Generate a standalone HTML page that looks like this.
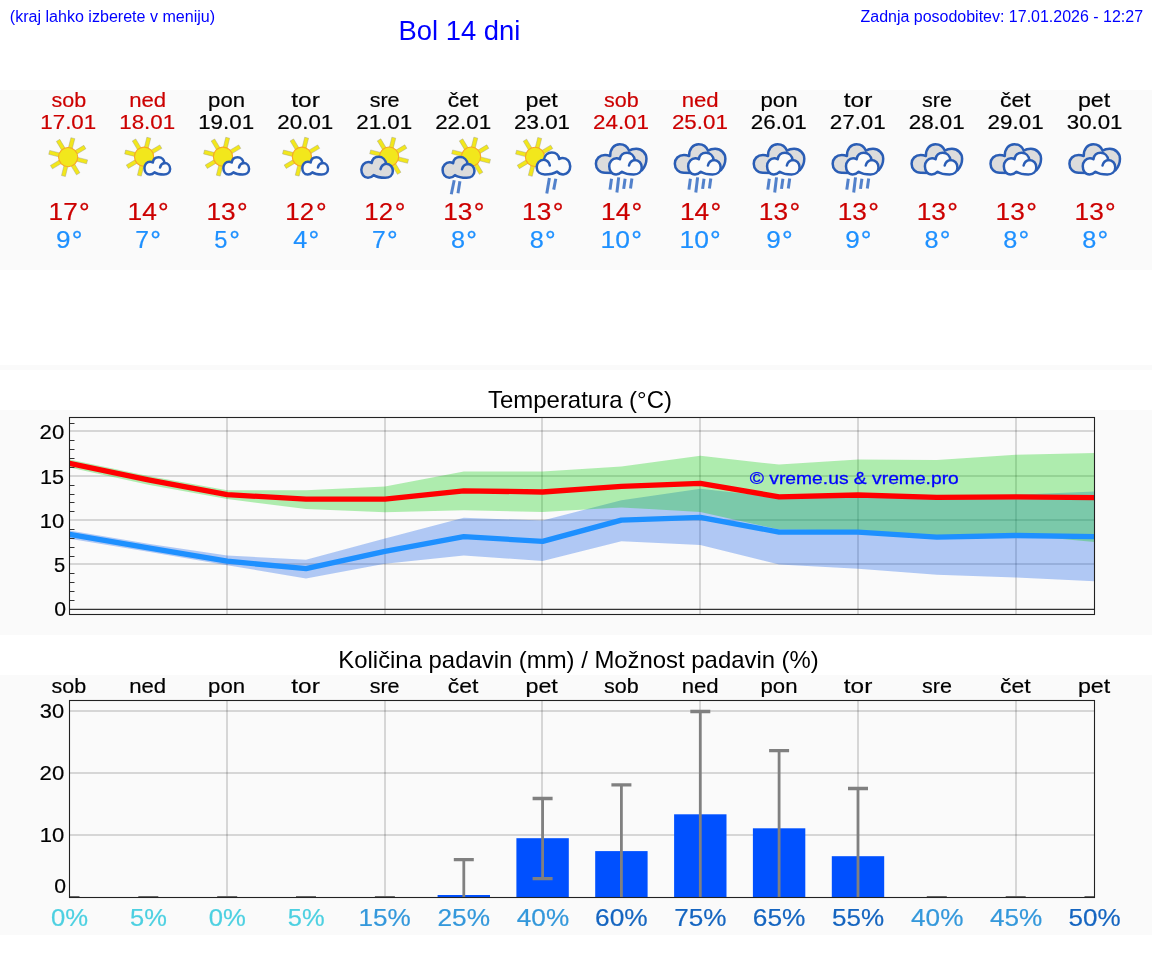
<!DOCTYPE html>
<html lang="sl">
<head>
<meta charset="utf-8">
<title>Bol 14 dni</title>
<style>
html,body{margin:0;padding:0;background:#fff;}
body{position:relative;width:1152px;height:975px;overflow:hidden;font-family:"Liberation Sans",sans-serif;}
.band{position:absolute;left:0;width:1152px;background:#fafafa;}
svg{position:absolute;left:0;top:0;}
#labels{position:absolute;left:0;top:0;width:1152px;height:975px;will-change:transform;}
.d{-webkit-text-stroke:0.2px currentColor;}
.t{position:absolute;left:0;top:0;white-space:pre;transform-origin:0 0;font-family:"Liberation Sans",sans-serif;}
</style>
</head>
<body>
<div class="band" style="top:90px;height:180px"></div>
<div class="band" style="top:365px;height:5px"></div>
<div class="band" style="top:410px;height:225px"></div>
<div class="band" style="top:675px;height:260px"></div>
<svg width="1152" height="975" viewBox="0 0 1152 975">
<g transform="translate(68.14,157.10)"><rect x="9.3" y="-2" width="10.2" height="4" fill="#f2e71c" stroke="#9a9a80" stroke-opacity=".55" stroke-width=".7" transform="rotate(-76)"/><rect x="9.3" y="-2" width="10.2" height="4" fill="#f2e71c" stroke="#9a9a80" stroke-opacity=".55" stroke-width=".7" transform="rotate(-31)"/><rect x="9.3" y="-2" width="10.2" height="4" fill="#f2e71c" stroke="#9a9a80" stroke-opacity=".55" stroke-width=".7" transform="rotate(14)"/><rect x="9.3" y="-2" width="10.2" height="4" fill="#f2e71c" stroke="#9a9a80" stroke-opacity=".55" stroke-width=".7" transform="rotate(59)"/><rect x="9.3" y="-2" width="10.2" height="4" fill="#f2e71c" stroke="#9a9a80" stroke-opacity=".55" stroke-width=".7" transform="rotate(104)"/><rect x="9.3" y="-2" width="10.2" height="4" fill="#f2e71c" stroke="#9a9a80" stroke-opacity=".55" stroke-width=".7" transform="rotate(149)"/><rect x="9.3" y="-2" width="10.2" height="4" fill="#f2e71c" stroke="#9a9a80" stroke-opacity=".55" stroke-width=".7" transform="rotate(194)"/><rect x="9.3" y="-2" width="10.2" height="4" fill="#f2e71c" stroke="#9a9a80" stroke-opacity=".55" stroke-width=".7" transform="rotate(239)"/><circle r="9.6" fill="#f2e71c" stroke="#f7a823" stroke-width="1.1"/></g>
<g transform="translate(144.07,156.70)"><rect x="9.3" y="-2" width="10.2" height="4" fill="#f2e71c" stroke="#9a9a80" stroke-opacity=".55" stroke-width=".7" transform="rotate(-76)"/><rect x="9.3" y="-2" width="10.2" height="4" fill="#f2e71c" stroke="#9a9a80" stroke-opacity=".55" stroke-width=".7" transform="rotate(-31)"/><rect x="9.3" y="-2" width="10.2" height="4" fill="#f2e71c" stroke="#9a9a80" stroke-opacity=".55" stroke-width=".7" transform="rotate(104)"/><rect x="9.3" y="-2" width="10.2" height="4" fill="#f2e71c" stroke="#9a9a80" stroke-opacity=".55" stroke-width=".7" transform="rotate(149)"/><rect x="9.3" y="-2" width="10.2" height="4" fill="#f2e71c" stroke="#9a9a80" stroke-opacity=".55" stroke-width=".7" transform="rotate(194)"/><rect x="9.3" y="-2" width="10.2" height="4" fill="#f2e71c" stroke="#9a9a80" stroke-opacity=".55" stroke-width=".7" transform="rotate(239)"/><circle r="9.6" fill="#f2e71c" stroke="#f7a823" stroke-width="1.1"/></g><g transform="translate(143.40,156.20) scale(0.05851,0.05939) translate(-140,-355)" stroke="#2a5db5" stroke-width="42.4" stroke-linejoin="round" stroke-linecap="round"><path d="M250 665C190 665 158 610 158 555C158 495 200 447 255 447C275 447 290 452 302 460C310 405 350 373 400 373C455 373 495 415 503 470C560 470 597 515 597 570C597 630 550 665 490 665C430 665 370 655 330 628C310 650 285 665 250 665Z" fill="#fbfbfb"/><path d="M503 470C470 475 435 500 425 545" fill="none"/></g>
<g transform="translate(222.99,156.70)"><rect x="9.3" y="-2" width="10.2" height="4" fill="#f2e71c" stroke="#9a9a80" stroke-opacity=".55" stroke-width=".7" transform="rotate(-76)"/><rect x="9.3" y="-2" width="10.2" height="4" fill="#f2e71c" stroke="#9a9a80" stroke-opacity=".55" stroke-width=".7" transform="rotate(-31)"/><rect x="9.3" y="-2" width="10.2" height="4" fill="#f2e71c" stroke="#9a9a80" stroke-opacity=".55" stroke-width=".7" transform="rotate(104)"/><rect x="9.3" y="-2" width="10.2" height="4" fill="#f2e71c" stroke="#9a9a80" stroke-opacity=".55" stroke-width=".7" transform="rotate(149)"/><rect x="9.3" y="-2" width="10.2" height="4" fill="#f2e71c" stroke="#9a9a80" stroke-opacity=".55" stroke-width=".7" transform="rotate(194)"/><rect x="9.3" y="-2" width="10.2" height="4" fill="#f2e71c" stroke="#9a9a80" stroke-opacity=".55" stroke-width=".7" transform="rotate(239)"/><circle r="9.6" fill="#f2e71c" stroke="#f7a823" stroke-width="1.1"/></g><g transform="translate(222.32,156.20) scale(0.05851,0.05939) translate(-140,-355)" stroke="#2a5db5" stroke-width="42.4" stroke-linejoin="round" stroke-linecap="round"><path d="M250 665C190 665 158 610 158 555C158 495 200 447 255 447C275 447 290 452 302 460C310 405 350 373 400 373C455 373 495 415 503 470C560 470 597 515 597 570C597 630 550 665 490 665C430 665 370 655 330 628C310 650 285 665 250 665Z" fill="#fbfbfb"/><path d="M503 470C470 475 435 500 425 545" fill="none"/></g>
<g transform="translate(301.91,156.70)"><rect x="9.3" y="-2" width="10.2" height="4" fill="#f2e71c" stroke="#9a9a80" stroke-opacity=".55" stroke-width=".7" transform="rotate(-76)"/><rect x="9.3" y="-2" width="10.2" height="4" fill="#f2e71c" stroke="#9a9a80" stroke-opacity=".55" stroke-width=".7" transform="rotate(-31)"/><rect x="9.3" y="-2" width="10.2" height="4" fill="#f2e71c" stroke="#9a9a80" stroke-opacity=".55" stroke-width=".7" transform="rotate(104)"/><rect x="9.3" y="-2" width="10.2" height="4" fill="#f2e71c" stroke="#9a9a80" stroke-opacity=".55" stroke-width=".7" transform="rotate(149)"/><rect x="9.3" y="-2" width="10.2" height="4" fill="#f2e71c" stroke="#9a9a80" stroke-opacity=".55" stroke-width=".7" transform="rotate(194)"/><rect x="9.3" y="-2" width="10.2" height="4" fill="#f2e71c" stroke="#9a9a80" stroke-opacity=".55" stroke-width=".7" transform="rotate(239)"/><circle r="9.6" fill="#f2e71c" stroke="#f7a823" stroke-width="1.1"/></g><g transform="translate(301.24,156.20) scale(0.05851,0.05939) translate(-140,-355)" stroke="#2a5db5" stroke-width="42.4" stroke-linejoin="round" stroke-linecap="round"><path d="M250 665C190 665 158 610 158 555C158 495 200 447 255 447C275 447 290 452 302 460C310 405 350 373 400 373C455 373 495 415 503 470C560 470 597 515 597 570C597 630 550 665 490 665C430 665 370 655 330 628C310 650 285 665 250 665Z" fill="#fbfbfb"/><path d="M503 470C470 475 435 500 425 545" fill="none"/></g>
<g transform="translate(389.10,156.60)"><rect x="9.3" y="-2" width="10.2" height="4" fill="#f2e71c" stroke="#9a9a80" stroke-opacity=".55" stroke-width=".7" transform="rotate(-76)"/><rect x="9.3" y="-2" width="10.2" height="4" fill="#f2e71c" stroke="#9a9a80" stroke-opacity=".55" stroke-width=".7" transform="rotate(-31)"/><rect x="9.3" y="-2" width="10.2" height="4" fill="#f2e71c" stroke="#9a9a80" stroke-opacity=".55" stroke-width=".7" transform="rotate(14)"/><rect x="9.3" y="-2" width="10.2" height="4" fill="#f2e71c" stroke="#9a9a80" stroke-opacity=".55" stroke-width=".7" transform="rotate(59)"/><rect x="9.3" y="-2" width="10.2" height="4" fill="#f2e71c" stroke="#9a9a80" stroke-opacity=".55" stroke-width=".7" transform="rotate(194)"/><rect x="9.3" y="-2" width="10.2" height="4" fill="#f2e71c" stroke="#9a9a80" stroke-opacity=".55" stroke-width=".7" transform="rotate(239)"/><circle r="9.6" fill="#f2e71c" stroke="#f7a823" stroke-width="1.1"/></g><g transform="translate(360.05,155.50) scale(0.07181,0.07182) translate(-140,-355)" stroke="#2a5db5" stroke-width="34.8" stroke-linejoin="round" stroke-linecap="round"><path d="M250 665C190 665 158 610 158 555C158 495 200 447 255 447C275 447 290 452 302 460C310 405 350 373 400 373C455 373 495 415 503 470C560 470 597 515 597 570C597 630 550 665 490 665C430 665 370 655 330 628C310 650 285 665 250 665Z" fill="#dcdcdc"/><path d="M503 470C470 475 435 500 425 545" fill="none"/></g>
<g transform="translate(471.07,156.60)"><rect x="9.3" y="-2" width="10.2" height="4" fill="#f2e71c" stroke="#9a9a80" stroke-opacity=".55" stroke-width=".7" transform="rotate(-76)"/><rect x="9.3" y="-2" width="10.2" height="4" fill="#f2e71c" stroke="#9a9a80" stroke-opacity=".55" stroke-width=".7" transform="rotate(-31)"/><rect x="9.3" y="-2" width="10.2" height="4" fill="#f2e71c" stroke="#9a9a80" stroke-opacity=".55" stroke-width=".7" transform="rotate(14)"/><rect x="9.3" y="-2" width="10.2" height="4" fill="#f2e71c" stroke="#9a9a80" stroke-opacity=".55" stroke-width=".7" transform="rotate(59)"/><rect x="9.3" y="-2" width="10.2" height="4" fill="#f2e71c" stroke="#9a9a80" stroke-opacity=".55" stroke-width=".7" transform="rotate(194)"/><rect x="9.3" y="-2" width="10.2" height="4" fill="#f2e71c" stroke="#9a9a80" stroke-opacity=".55" stroke-width=".7" transform="rotate(239)"/><circle r="9.6" fill="#f2e71c" stroke="#f7a823" stroke-width="1.1"/></g><g transform="translate(441.30,155.80) scale(0.07255,0.07091) translate(-140,-355)" stroke="#2a5db5" stroke-width="34.9" stroke-linejoin="round" stroke-linecap="round"><path d="M250 665C190 665 158 610 158 555C158 495 200 447 255 447C275 447 290 452 302 460C310 405 350 373 400 373C455 373 495 415 503 470C560 470 597 515 597 570C597 630 550 665 490 665C430 665 370 655 330 628C310 650 285 665 250 665Z" fill="#dcdcdc"/><path d="M503 470C470 475 435 500 425 545" fill="none"/></g><line x1="454.2" y1="180.3" x2="451.3" y2="194.2" stroke="#3a6fc4" stroke-width="3" stroke-opacity=".88"/><line x1="459.9" y1="181.3" x2="458.0" y2="193.2" stroke="#3a6fc4" stroke-width="3" stroke-opacity=".88"/>
<g transform="translate(535.00,156.90)"><rect x="9.3" y="-2" width="10.2" height="4" fill="#f2e71c" stroke="#9a9a80" stroke-opacity=".55" stroke-width=".7" transform="rotate(-76)"/><rect x="9.3" y="-2" width="10.2" height="4" fill="#f2e71c" stroke="#9a9a80" stroke-opacity=".55" stroke-width=".7" transform="rotate(-31)"/><rect x="9.3" y="-2" width="10.2" height="4" fill="#f2e71c" stroke="#9a9a80" stroke-opacity=".55" stroke-width=".7" transform="rotate(104)"/><rect x="9.3" y="-2" width="10.2" height="4" fill="#f2e71c" stroke="#9a9a80" stroke-opacity=".55" stroke-width=".7" transform="rotate(149)"/><rect x="9.3" y="-2" width="10.2" height="4" fill="#f2e71c" stroke="#9a9a80" stroke-opacity=".55" stroke-width=".7" transform="rotate(194)"/><rect x="9.3" y="-2" width="10.2" height="4" fill="#f2e71c" stroke="#9a9a80" stroke-opacity=".55" stroke-width=".7" transform="rotate(239)"/><circle r="9.6" fill="#f2e71c" stroke="#f7a823" stroke-width="1.1"/></g><g transform="translate(571.60,151.20) scale(-0.07638,0.07485) translate(-140,-355)" stroke="#2a5db5" stroke-width="33.1" stroke-linejoin="round" stroke-linecap="round"><path d="M250 665C190 665 158 610 158 555C158 495 200 447 255 447C275 447 290 452 302 460C310 405 350 373 400 373C455 373 495 415 503 470C560 470 597 515 597 570C597 630 550 665 490 665C430 665 370 655 330 628C310 650 285 665 250 665Z" fill="#fbfbfb"/><path d="M503 470C470 475 435 500 425 545" fill="none"/></g><line x1="549.4" y1="178.1" x2="546.8" y2="193.5" stroke="#3a6fc4" stroke-width="3" stroke-opacity=".88"/><line x1="555.8" y1="178.8" x2="553.7" y2="189.6" stroke="#3a6fc4" stroke-width="3" stroke-opacity=".88"/>
<g transform="translate(586.00,130) scale(0.07179)" stroke="#2a5db5" stroke-width="35" stroke-linejoin="round"><path d="M265 595C190 595 138 540 138 470C138 400 190 348 265 348C292 348 315 353 337 363C335 265 390 198 470 198C530 198 580 235 600 287C630 268 665 262 700 262C780 262 842 325 842 400C842 470 815 520 780 560L400 600Z" fill="#dcdcdc"/></g><g transform="translate(607.90,151.50) scale(0.07404,0.07394) translate(-140,-355)" stroke="#2a5db5" stroke-width="33.8" stroke-linejoin="round" stroke-linecap="round"><path d="M250 665C190 665 158 610 158 555C158 495 200 447 255 447C275 447 290 452 302 460C310 405 350 373 400 373C455 373 495 415 503 470C560 470 597 515 597 570C597 630 550 665 490 665C430 665 370 655 330 628C310 650 285 665 250 665Z" fill="#fbfbfb"/><path d="M503 470C470 475 435 500 425 545" fill="none"/></g><line x1="611.5" y1="178.8" x2="610.0" y2="189.6" stroke="#3a6fc4" stroke-width="3" stroke-opacity=".88"/><line x1="618.7" y1="177.4" x2="616.9" y2="192.5" stroke="#3a6fc4" stroke-width="3" stroke-opacity=".88"/><line x1="625.1" y1="178.8" x2="623.7" y2="188.9" stroke="#3a6fc4" stroke-width="3" stroke-opacity=".88"/><line x1="631.9" y1="178.5" x2="630.5" y2="188.5" stroke="#3a6fc4" stroke-width="3" stroke-opacity=".88"/>
<g transform="translate(664.92,130) scale(0.07179)" stroke="#2a5db5" stroke-width="35" stroke-linejoin="round"><path d="M265 595C190 595 138 540 138 470C138 400 190 348 265 348C292 348 315 353 337 363C335 265 390 198 470 198C530 198 580 235 600 287C630 268 665 262 700 262C780 262 842 325 842 400C842 470 815 520 780 560L400 600Z" fill="#dcdcdc"/></g><g transform="translate(686.82,151.50) scale(0.07404,0.07394) translate(-140,-355)" stroke="#2a5db5" stroke-width="33.8" stroke-linejoin="round" stroke-linecap="round"><path d="M250 665C190 665 158 610 158 555C158 495 200 447 255 447C275 447 290 452 302 460C310 405 350 373 400 373C455 373 495 415 503 470C560 470 597 515 597 570C597 630 550 665 490 665C430 665 370 655 330 628C310 650 285 665 250 665Z" fill="#fbfbfb"/><path d="M503 470C470 475 435 500 425 545" fill="none"/></g><line x1="690.4" y1="178.8" x2="688.9" y2="189.6" stroke="#3a6fc4" stroke-width="3" stroke-opacity=".88"/><line x1="697.6" y1="177.4" x2="695.8" y2="192.5" stroke="#3a6fc4" stroke-width="3" stroke-opacity=".88"/><line x1="704.0" y1="178.8" x2="702.6" y2="188.9" stroke="#3a6fc4" stroke-width="3" stroke-opacity=".88"/><line x1="710.8" y1="178.5" x2="709.4" y2="188.5" stroke="#3a6fc4" stroke-width="3" stroke-opacity=".88"/>
<g transform="translate(743.84,130) scale(0.07179)" stroke="#2a5db5" stroke-width="35" stroke-linejoin="round"><path d="M265 595C190 595 138 540 138 470C138 400 190 348 265 348C292 348 315 353 337 363C335 265 390 198 470 198C530 198 580 235 600 287C630 268 665 262 700 262C780 262 842 325 842 400C842 470 815 520 780 560L400 600Z" fill="#dcdcdc"/></g><g transform="translate(765.74,151.50) scale(0.07404,0.07394) translate(-140,-355)" stroke="#2a5db5" stroke-width="33.8" stroke-linejoin="round" stroke-linecap="round"><path d="M250 665C190 665 158 610 158 555C158 495 200 447 255 447C275 447 290 452 302 460C310 405 350 373 400 373C455 373 495 415 503 470C560 470 597 515 597 570C597 630 550 665 490 665C430 665 370 655 330 628C310 650 285 665 250 665Z" fill="#fbfbfb"/><path d="M503 470C470 475 435 500 425 545" fill="none"/></g><line x1="769.3" y1="178.8" x2="767.8" y2="189.6" stroke="#3a6fc4" stroke-width="3" stroke-opacity=".88"/><line x1="776.5" y1="177.4" x2="774.7" y2="192.5" stroke="#3a6fc4" stroke-width="3" stroke-opacity=".88"/><line x1="782.9" y1="178.8" x2="781.5" y2="188.9" stroke="#3a6fc4" stroke-width="3" stroke-opacity=".88"/><line x1="789.7" y1="178.5" x2="788.3" y2="188.5" stroke="#3a6fc4" stroke-width="3" stroke-opacity=".88"/>
<g transform="translate(822.76,130) scale(0.07179)" stroke="#2a5db5" stroke-width="35" stroke-linejoin="round"><path d="M265 595C190 595 138 540 138 470C138 400 190 348 265 348C292 348 315 353 337 363C335 265 390 198 470 198C530 198 580 235 600 287C630 268 665 262 700 262C780 262 842 325 842 400C842 470 815 520 780 560L400 600Z" fill="#dcdcdc"/></g><g transform="translate(844.66,151.50) scale(0.07404,0.07394) translate(-140,-355)" stroke="#2a5db5" stroke-width="33.8" stroke-linejoin="round" stroke-linecap="round"><path d="M250 665C190 665 158 610 158 555C158 495 200 447 255 447C275 447 290 452 302 460C310 405 350 373 400 373C455 373 495 415 503 470C560 470 597 515 597 570C597 630 550 665 490 665C430 665 370 655 330 628C310 650 285 665 250 665Z" fill="#fbfbfb"/><path d="M503 470C470 475 435 500 425 545" fill="none"/></g><line x1="848.3" y1="178.8" x2="846.8" y2="189.6" stroke="#3a6fc4" stroke-width="3" stroke-opacity=".88"/><line x1="855.5" y1="177.4" x2="853.7" y2="192.5" stroke="#3a6fc4" stroke-width="3" stroke-opacity=".88"/><line x1="861.9" y1="178.8" x2="860.5" y2="188.9" stroke="#3a6fc4" stroke-width="3" stroke-opacity=".88"/><line x1="868.7" y1="178.5" x2="867.3" y2="188.5" stroke="#3a6fc4" stroke-width="3" stroke-opacity=".88"/>
<g transform="translate(901.68,130) scale(0.07179)" stroke="#2a5db5" stroke-width="35" stroke-linejoin="round"><path d="M265 595C190 595 138 540 138 470C138 400 190 348 265 348C292 348 315 353 337 363C335 265 390 198 470 198C530 198 580 235 600 287C630 268 665 262 700 262C780 262 842 325 842 400C842 470 815 520 780 560L400 600Z" fill="#dcdcdc"/></g><g transform="translate(923.58,151.50) scale(0.07404,0.07394) translate(-140,-355)" stroke="#2a5db5" stroke-width="33.8" stroke-linejoin="round" stroke-linecap="round"><path d="M250 665C190 665 158 610 158 555C158 495 200 447 255 447C275 447 290 452 302 460C310 405 350 373 400 373C455 373 495 415 503 470C560 470 597 515 597 570C597 630 550 665 490 665C430 665 370 655 330 628C310 650 285 665 250 665Z" fill="#fbfbfb"/><path d="M503 470C470 475 435 500 425 545" fill="none"/></g>
<g transform="translate(980.60,130) scale(0.07179)" stroke="#2a5db5" stroke-width="35" stroke-linejoin="round"><path d="M265 595C190 595 138 540 138 470C138 400 190 348 265 348C292 348 315 353 337 363C335 265 390 198 470 198C530 198 580 235 600 287C630 268 665 262 700 262C780 262 842 325 842 400C842 470 815 520 780 560L400 600Z" fill="#dcdcdc"/></g><g transform="translate(1002.50,151.50) scale(0.07404,0.07394) translate(-140,-355)" stroke="#2a5db5" stroke-width="33.8" stroke-linejoin="round" stroke-linecap="round"><path d="M250 665C190 665 158 610 158 555C158 495 200 447 255 447C275 447 290 452 302 460C310 405 350 373 400 373C455 373 495 415 503 470C560 470 597 515 597 570C597 630 550 665 490 665C430 665 370 655 330 628C310 650 285 665 250 665Z" fill="#fbfbfb"/><path d="M503 470C470 475 435 500 425 545" fill="none"/></g>
<g transform="translate(1059.52,130) scale(0.07179)" stroke="#2a5db5" stroke-width="35" stroke-linejoin="round"><path d="M265 595C190 595 138 540 138 470C138 400 190 348 265 348C292 348 315 353 337 363C335 265 390 198 470 198C530 198 580 235 600 287C630 268 665 262 700 262C780 262 842 325 842 400C842 470 815 520 780 560L400 600Z" fill="#dcdcdc"/></g><g transform="translate(1081.42,151.50) scale(0.07404,0.07394) translate(-140,-355)" stroke="#2a5db5" stroke-width="33.8" stroke-linejoin="round" stroke-linecap="round"><path d="M250 665C190 665 158 610 158 555C158 495 200 447 255 447C275 447 290 452 302 460C310 405 350 373 400 373C455 373 495 415 503 470C560 470 597 515 597 570C597 630 550 665 490 665C430 665 370 655 330 628C310 650 285 665 250 665Z" fill="#fbfbfb"/><path d="M503 470C470 475 435 500 425 545" fill="none"/></g>
<svg x="69.5" y="417.5" width="1025.0" height="197.0" viewBox="69.5 417.5 1025.0 197.0" overflow="hidden">
<line x1="69.5" x2="1094.5" y1="431" y2="431" stroke="#000" stroke-opacity=".14" stroke-width="2"/>
<line x1="69.5" x2="1094.5" y1="476" y2="476" stroke="#000" stroke-opacity=".14" stroke-width="2"/>
<line x1="69.5" x2="1094.5" y1="520" y2="520" stroke="#000" stroke-opacity=".14" stroke-width="2"/>
<line x1="69.5" x2="1094.5" y1="564" y2="564" stroke="#000" stroke-opacity=".14" stroke-width="2"/>
<line x1="227" x2="227" y1="417.5" y2="614.5" stroke="#000" stroke-opacity=".14" stroke-width="2"/>
<line x1="385" x2="385" y1="417.5" y2="614.5" stroke="#000" stroke-opacity=".14" stroke-width="2"/>
<line x1="542" x2="542" y1="417.5" y2="614.5" stroke="#000" stroke-opacity=".14" stroke-width="2"/>
<line x1="700" x2="700" y1="417.5" y2="614.5" stroke="#000" stroke-opacity=".14" stroke-width="2"/>
<line x1="858" x2="858" y1="417.5" y2="614.5" stroke="#000" stroke-opacity=".14" stroke-width="2"/>
<line x1="1016" x2="1016" y1="417.5" y2="614.5" stroke="#000" stroke-opacity=".14" stroke-width="2"/>
<polygon points="69.5,530.4 148.3,543.8 227.2,555.4 306.0,559.8 384.9,538.4 463.8,517.8 542.6,520.5 621.4,500.2 700.3,488.7 779.1,497.3 858.0,495.6 936.8,497.3 1015.7,494.7 1094.5,491.5 1094.5,581.2 1015.7,577.5 936.8,574.7 858.0,568.8 779.1,564.6 700.3,544.9 621.4,541.2 542.6,561.1 463.8,555.4 384.9,563.7 306.0,578.6 227.2,565.2 148.3,551.8 69.5,538.8" fill="#0656e8" fill-opacity="0.3"/>
<polygon points="69.5,459.4 148.3,475.9 227.2,490.2 306.0,490.2 384.9,486.4 463.8,471.6 542.6,471.6 621.4,466.5 700.3,455.7 779.1,464.6 858.0,459.4 936.8,459.9 1015.7,454.8 1094.5,452.9 1094.5,541.9 1015.7,534.8 936.8,535.7 858.0,530.4 779.1,529.5 700.3,511.9 621.4,507.4 542.6,511.9 463.8,510.3 384.9,512.2 306.0,508.9 227.2,499.1 148.3,484.8 69.5,467.4" fill="#00cc00" fill-opacity="0.3"/>
<polyline points="69.5,463.4 148.3,479.9 227.2,494.7 306.0,499.1 384.9,499.1 463.8,490.8 542.6,492.0 621.4,486.4 700.3,483.3 779.1,496.9 858.0,495.0 936.8,497.3 1015.7,496.9 1094.5,497.6" fill="none" stroke="#ff0000" stroke-width="5.3" stroke-linejoin="round" stroke-linecap="square"/>
<polyline points="69.5,534.4 148.3,547.8 227.2,561.2 306.0,568.7 384.9,551.3 463.8,536.7 542.6,541.4 621.4,520.1 700.3,517.3 779.1,532.1 858.0,532.1 936.8,537.2 1015.7,535.5 1094.5,536.7" fill="none" stroke="#1e90ff" stroke-width="5.3" stroke-linejoin="round" stroke-linecap="square"/>
</svg>
<line x1="69.5" x2="1094.5" y1="609.4" y2="609.4" stroke="#333" stroke-width="1.1"/>
<line x1="69.5" x2="74.5" y1="600.5" y2="600.5" stroke="#333" stroke-width="1"/>
<line x1="69.5" x2="74.5" y1="591.5" y2="591.5" stroke="#333" stroke-width="1"/>
<line x1="69.5" x2="74.5" y1="582.5" y2="582.5" stroke="#333" stroke-width="1"/>
<line x1="69.5" x2="74.5" y1="573.5" y2="573.5" stroke="#333" stroke-width="1"/>
<line x1="69.5" x2="74.5" y1="556.5" y2="556.5" stroke="#333" stroke-width="1"/>
<line x1="69.5" x2="74.5" y1="547.5" y2="547.5" stroke="#333" stroke-width="1"/>
<line x1="69.5" x2="74.5" y1="538.5" y2="538.5" stroke="#333" stroke-width="1"/>
<line x1="69.5" x2="74.5" y1="529.5" y2="529.5" stroke="#333" stroke-width="1"/>
<line x1="69.5" x2="74.5" y1="511.5" y2="511.5" stroke="#333" stroke-width="1"/>
<line x1="69.5" x2="74.5" y1="502.5" y2="502.5" stroke="#333" stroke-width="1"/>
<line x1="69.5" x2="74.5" y1="494.5" y2="494.5" stroke="#333" stroke-width="1"/>
<line x1="69.5" x2="74.5" y1="485.5" y2="485.5" stroke="#333" stroke-width="1"/>
<line x1="69.5" x2="74.5" y1="467.5" y2="467.5" stroke="#333" stroke-width="1"/>
<line x1="69.5" x2="74.5" y1="458.5" y2="458.5" stroke="#333" stroke-width="1"/>
<line x1="69.5" x2="74.5" y1="449.5" y2="449.5" stroke="#333" stroke-width="1"/>
<line x1="69.5" x2="74.5" y1="440.5" y2="440.5" stroke="#333" stroke-width="1"/>
<line x1="69.5" x2="74.5" y1="423.5" y2="423.5" stroke="#333" stroke-width="1"/>
<rect x="69.5" y="417.5" width="1025.0" height="197.0" fill="none" stroke="#222" stroke-width="1.1"/>
<svg x="69.5" y="700.5" width="1025.0" height="197.0" viewBox="69.5 700.5 1025.0 197.0" overflow="hidden">
<line x1="69.5" x2="1094.5" y1="711" y2="711" stroke="#000" stroke-opacity=".14" stroke-width="2"/>
<line x1="69.5" x2="1094.5" y1="773" y2="773" stroke="#000" stroke-opacity=".14" stroke-width="2"/>
<line x1="69.5" x2="1094.5" y1="835" y2="835" stroke="#000" stroke-opacity=".14" stroke-width="2"/>
<line x1="227" x2="227" y1="700.5" y2="897.5" stroke="#000" stroke-opacity=".14" stroke-width="2"/>
<line x1="385" x2="385" y1="700.5" y2="897.5" stroke="#000" stroke-opacity=".14" stroke-width="2"/>
<line x1="542" x2="542" y1="700.5" y2="897.5" stroke="#000" stroke-opacity=".14" stroke-width="2"/>
<line x1="700" x2="700" y1="700.5" y2="897.5" stroke="#000" stroke-opacity=".14" stroke-width="2"/>
<line x1="858" x2="858" y1="700.5" y2="897.5" stroke="#000" stroke-opacity=".14" stroke-width="2"/>
<line x1="1016" x2="1016" y1="700.5" y2="897.5" stroke="#000" stroke-opacity=".14" stroke-width="2"/>
<rect x="437.6" y="895.0" width="52.4" height="2.5" fill="#0050ff"/>
<rect x="516.4" y="838.2" width="52.4" height="59.3" fill="#0050ff"/>
<rect x="595.2" y="851.1" width="52.4" height="46.4" fill="#0050ff"/>
<rect x="674.1" y="814.3" width="52.4" height="83.2" fill="#0050ff"/>
<rect x="752.9" y="828.3" width="52.4" height="69.2" fill="#0050ff"/>
<rect x="831.8" y="856.2" width="52.4" height="41.3" fill="#0050ff"/>
<line x1="59.5" x2="79.5" y1="897.6" y2="897.6" stroke="#6a6a6a" stroke-width="3.3"/>
<line x1="138.3" x2="158.3" y1="897.6" y2="897.6" stroke="#6a6a6a" stroke-width="3.3"/>
<line x1="217.2" x2="237.2" y1="897.6" y2="897.6" stroke="#6a6a6a" stroke-width="3.3"/>
<line x1="296.0" x2="316.0" y1="897.6" y2="897.6" stroke="#6a6a6a" stroke-width="3.3"/>
<line x1="374.9" x2="394.9" y1="897.6" y2="897.6" stroke="#6a6a6a" stroke-width="3.3"/>
<line x1="463.8" x2="463.8" y1="859.7" y2="897.5" stroke="#808080" stroke-width="2.8"/>
<line x1="453.8" x2="473.8" y1="859.7" y2="859.7" stroke="#808080" stroke-width="3.3"/>
<line x1="542.6" x2="542.6" y1="798.5" y2="878.7" stroke="#808080" stroke-width="2.8"/>
<line x1="532.6" x2="552.6" y1="798.5" y2="798.5" stroke="#808080" stroke-width="3.3"/>
<line x1="532.6" x2="552.6" y1="878.7" y2="878.7" stroke="#808080" stroke-width="3.3"/>
<line x1="621.4" x2="621.4" y1="784.8" y2="897.5" stroke="#808080" stroke-width="2.8"/>
<line x1="611.4" x2="631.4" y1="784.8" y2="784.8" stroke="#808080" stroke-width="3.3"/>
<line x1="700.3" x2="700.3" y1="711.5" y2="897.5" stroke="#808080" stroke-width="2.8"/>
<line x1="690.3" x2="710.3" y1="711.5" y2="711.5" stroke="#808080" stroke-width="3.3"/>
<line x1="779.1" x2="779.1" y1="750.6" y2="897.5" stroke="#808080" stroke-width="2.8"/>
<line x1="769.1" x2="789.1" y1="750.6" y2="750.6" stroke="#808080" stroke-width="3.3"/>
<line x1="858.0" x2="858.0" y1="788.5" y2="897.5" stroke="#808080" stroke-width="2.8"/>
<line x1="848.0" x2="868.0" y1="788.5" y2="788.5" stroke="#808080" stroke-width="3.3"/>
<line x1="926.8" x2="946.8" y1="897.6" y2="897.6" stroke="#6a6a6a" stroke-width="3.3"/>
<line x1="1005.7" x2="1025.7" y1="897.6" y2="897.6" stroke="#6a6a6a" stroke-width="3.3"/>
<line x1="1084.5" x2="1104.5" y1="897.6" y2="897.6" stroke="#6a6a6a" stroke-width="3.3"/>
</svg>
<rect x="69.5" y="700.5" width="1025.0" height="197.0" fill="none" stroke="#222" stroke-width="1.1"/>
</svg>
<div id="labels">
<span class="t" style="font-size:16px;line-height:16px;color:#0000ff;transform:matrix(1.0038,0,0,1,9.80,9.16)">(kraj lahko izberete v meniju)</span>
<span class="t" style="font-size:27.4px;line-height:27.4px;color:#0000ff;transform:matrix(1.0004,0,0,1,398.55,16.71)">Bol 14 dni</span>
<span class="t" style="font-size:16px;line-height:16px;color:#0000ff;transform:matrix(0.9988,0,0,1,860.50,9.26)">Zadnja posodobitev: 17.01.2026 - 12:27</span>
<span class="t d" style="font-size:20.7px;line-height:20.7px;color:#cc0000;transform:matrix(1.0392,0,0,1,51.59,89.98)">sob</span>
<span class="t d" style="font-size:20.4px;line-height:20.4px;color:#cc0000;transform:matrix(1.0951,0,0,1,40.33,111.73)">17.01</span>
<span class="t d" style="font-size:24.48px;line-height:24.48px;color:#cc0000;transform:matrix(1.0725,0,0,1,48.58,200.38)">17</span>
<span class="t" style="font-size:24.48px;line-height:24.48px;color:#cc0000;-webkit-text-stroke:0.3px #cc0000;transform:matrix(1.0909,0,0,1.0909,79.12,200.40)">°</span>
<span class="t d" style="font-size:24.48px;line-height:24.48px;color:#1e90ff;transform:matrix(1.0659,0,0,1,56.05,228.18)">9</span>
<span class="t" style="font-size:24.48px;line-height:24.48px;color:#1e90ff;-webkit-text-stroke:0.3px #1e90ff;transform:matrix(1.0909,0,0,1.0909,71.63,228.20)">°</span>
<span class="t d" style="font-size:20.7px;line-height:20.7px;color:#cc0000;transform:matrix(1.0706,0,0,1,129.19,89.98)">ned</span>
<span class="t d" style="font-size:20.4px;line-height:20.4px;color:#cc0000;transform:matrix(1.0951,0,0,1,119.25,111.73)">18.01</span>
<span class="t d" style="font-size:24.48px;line-height:24.48px;color:#cc0000;transform:matrix(1.0761,0,0,1,127.49,200.38)">14</span>
<span class="t" style="font-size:24.48px;line-height:24.48px;color:#cc0000;-webkit-text-stroke:0.3px #cc0000;transform:matrix(1.0909,0,0,1.0909,158.04,200.40)">°</span>
<span class="t d" style="font-size:24.48px;line-height:24.48px;color:#1e90ff;transform:matrix(1.0112,0,0,1,135.16,228.18)">7</span>
<span class="t" style="font-size:24.48px;line-height:24.48px;color:#1e90ff;-webkit-text-stroke:0.3px #1e90ff;transform:matrix(1.0909,0,0,1.0909,150.30,228.20)">°</span>
<span class="t d" style="font-size:20.7px;line-height:20.7px;color:#000;transform:matrix(1.0706,0,0,1,208.11,89.98)">pon</span>
<span class="t d" style="font-size:20.4px;line-height:20.4px;color:#000;transform:matrix(1.0951,0,0,1,198.17,111.73)">19.01</span>
<span class="t d" style="font-size:24.48px;line-height:24.48px;color:#cc0000;transform:matrix(1.0722,0,0,1,206.42,200.38)">13</span>
<span class="t" style="font-size:24.48px;line-height:24.48px;color:#cc0000;-webkit-text-stroke:0.3px #cc0000;transform:matrix(1.0909,0,0,1.0909,236.96,200.40)">°</span>
<span class="t d" style="font-size:24.48px;line-height:24.48px;color:#1e90ff;transform:matrix(0.9677,0,0,1,214.31,228.18)">5</span>
<span class="t" style="font-size:24.48px;line-height:24.48px;color:#1e90ff;-webkit-text-stroke:0.3px #1e90ff;transform:matrix(1.0909,0,0,1.0909,229.29,228.20)">°</span>
<span class="t d" style="font-size:20.7px;line-height:20.7px;color:#000;transform:matrix(1.1799,0,0,1,291.33,89.98)">tor</span>
<span class="t d" style="font-size:20.4px;line-height:20.4px;color:#000;transform:matrix(1.0967,0,0,1,277.33,111.73)">20.01</span>
<span class="t d" style="font-size:24.48px;line-height:24.48px;color:#cc0000;transform:matrix(1.0570,0,0,1,285.37,200.38)">12</span>
<span class="t" style="font-size:24.48px;line-height:24.48px;color:#cc0000;-webkit-text-stroke:0.3px #cc0000;transform:matrix(1.0909,0,0,1.0909,315.88,200.40)">°</span>
<span class="t d" style="font-size:24.48px;line-height:24.48px;color:#1e90ff;transform:matrix(1.0303,0,0,1,293.31,228.18)">4</span>
<span class="t" style="font-size:24.48px;line-height:24.48px;color:#1e90ff;-webkit-text-stroke:0.3px #1e90ff;transform:matrix(1.0909,0,0,1.0909,308.58,228.20)">°</span>
<span class="t d" style="font-size:20.7px;line-height:20.7px;color:#000;transform:matrix(1.0413,0,0,1,369.64,89.98)">sre</span>
<span class="t d" style="font-size:20.4px;line-height:20.4px;color:#000;transform:matrix(1.0967,0,0,1,356.25,111.73)">21.01</span>
<span class="t d" style="font-size:24.48px;line-height:24.48px;color:#cc0000;transform:matrix(1.0570,0,0,1,364.29,200.38)">12</span>
<span class="t" style="font-size:24.48px;line-height:24.48px;color:#cc0000;-webkit-text-stroke:0.3px #cc0000;transform:matrix(1.0909,0,0,1.0909,394.80,200.40)">°</span>
<span class="t d" style="font-size:24.48px;line-height:24.48px;color:#1e90ff;transform:matrix(1.0112,0,0,1,371.92,228.18)">7</span>
<span class="t" style="font-size:24.48px;line-height:24.48px;color:#1e90ff;-webkit-text-stroke:0.3px #1e90ff;transform:matrix(1.0909,0,0,1.0909,387.06,228.20)">°</span>
<span class="t d" style="font-size:20.7px;line-height:20.7px;color:#000;transform:matrix(1.1080,0,0,1,447.68,89.98)">čet</span>
<span class="t d" style="font-size:20.4px;line-height:20.4px;color:#000;transform:matrix(1.0967,0,0,1,435.17,111.73)">22.01</span>
<span class="t d" style="font-size:24.48px;line-height:24.48px;color:#cc0000;transform:matrix(1.0722,0,0,1,443.18,200.38)">13</span>
<span class="t" style="font-size:24.48px;line-height:24.48px;color:#cc0000;-webkit-text-stroke:0.3px #cc0000;transform:matrix(1.0909,0,0,1.0909,473.72,200.40)">°</span>
<span class="t d" style="font-size:24.48px;line-height:24.48px;color:#1e90ff;transform:matrix(1.0323,0,0,1,450.88,228.18)">8</span>
<span class="t" style="font-size:24.48px;line-height:24.48px;color:#1e90ff;-webkit-text-stroke:0.3px #1e90ff;transform:matrix(1.0909,0,0,1.0909,466.17,228.20)">°</span>
<span class="t d" style="font-size:20.7px;line-height:20.7px;color:#000;transform:matrix(1.1239,0,0,1,525.46,89.98)">pet</span>
<span class="t d" style="font-size:20.4px;line-height:20.4px;color:#000;transform:matrix(1.0967,0,0,1,514.09,111.73)">23.01</span>
<span class="t d" style="font-size:24.48px;line-height:24.48px;color:#cc0000;transform:matrix(1.0722,0,0,1,522.10,200.38)">13</span>
<span class="t" style="font-size:24.48px;line-height:24.48px;color:#cc0000;-webkit-text-stroke:0.3px #cc0000;transform:matrix(1.0909,0,0,1.0909,552.64,200.40)">°</span>
<span class="t d" style="font-size:24.48px;line-height:24.48px;color:#1e90ff;transform:matrix(1.0323,0,0,1,529.80,228.18)">8</span>
<span class="t" style="font-size:24.48px;line-height:24.48px;color:#1e90ff;-webkit-text-stroke:0.3px #1e90ff;transform:matrix(1.0909,0,0,1.0909,545.09,228.20)">°</span>
<span class="t d" style="font-size:20.7px;line-height:20.7px;color:#cc0000;transform:matrix(1.0392,0,0,1,604.03,89.98)">sob</span>
<span class="t d" style="font-size:20.4px;line-height:20.4px;color:#cc0000;transform:matrix(1.0967,0,0,1,593.01,111.73)">24.01</span>
<span class="t d" style="font-size:24.48px;line-height:24.48px;color:#cc0000;transform:matrix(1.0761,0,0,1,601.01,200.38)">14</span>
<span class="t" style="font-size:24.48px;line-height:24.48px;color:#cc0000;-webkit-text-stroke:0.3px #cc0000;transform:matrix(1.0909,0,0,1.0909,631.56,200.40)">°</span>
<span class="t d" style="font-size:24.48px;line-height:24.48px;color:#1e90ff;transform:matrix(1.0821,0,0,1,600.60,228.18)">10</span>
<span class="t" style="font-size:24.48px;line-height:24.48px;color:#1e90ff;-webkit-text-stroke:0.3px #1e90ff;transform:matrix(1.0909,0,0,1.0909,631.16,228.20)">°</span>
<span class="t d" style="font-size:20.7px;line-height:20.7px;color:#cc0000;transform:matrix(1.0706,0,0,1,681.63,89.98)">ned</span>
<span class="t d" style="font-size:20.4px;line-height:20.4px;color:#cc0000;transform:matrix(1.0967,0,0,1,671.93,111.73)">25.01</span>
<span class="t d" style="font-size:24.48px;line-height:24.48px;color:#cc0000;transform:matrix(1.0761,0,0,1,679.93,200.38)">14</span>
<span class="t" style="font-size:24.48px;line-height:24.48px;color:#cc0000;-webkit-text-stroke:0.3px #cc0000;transform:matrix(1.0909,0,0,1.0909,710.48,200.40)">°</span>
<span class="t d" style="font-size:24.48px;line-height:24.48px;color:#1e90ff;transform:matrix(1.0821,0,0,1,679.52,228.18)">10</span>
<span class="t" style="font-size:24.48px;line-height:24.48px;color:#1e90ff;-webkit-text-stroke:0.3px #1e90ff;transform:matrix(1.0909,0,0,1.0909,710.08,228.20)">°</span>
<span class="t d" style="font-size:20.7px;line-height:20.7px;color:#000;transform:matrix(1.0706,0,0,1,760.55,89.98)">pon</span>
<span class="t d" style="font-size:20.4px;line-height:20.4px;color:#000;transform:matrix(1.0967,0,0,1,750.85,111.73)">26.01</span>
<span class="t d" style="font-size:24.48px;line-height:24.48px;color:#cc0000;transform:matrix(1.0722,0,0,1,758.86,200.38)">13</span>
<span class="t" style="font-size:24.48px;line-height:24.48px;color:#cc0000;-webkit-text-stroke:0.3px #cc0000;transform:matrix(1.0909,0,0,1.0909,789.40,200.40)">°</span>
<span class="t d" style="font-size:24.48px;line-height:24.48px;color:#1e90ff;transform:matrix(1.0659,0,0,1,766.33,228.18)">9</span>
<span class="t" style="font-size:24.48px;line-height:24.48px;color:#1e90ff;-webkit-text-stroke:0.3px #1e90ff;transform:matrix(1.0909,0,0,1.0909,781.91,228.20)">°</span>
<span class="t d" style="font-size:20.7px;line-height:20.7px;color:#000;transform:matrix(1.1799,0,0,1,843.77,89.98)">tor</span>
<span class="t d" style="font-size:20.4px;line-height:20.4px;color:#000;transform:matrix(1.0967,0,0,1,829.77,111.73)">27.01</span>
<span class="t d" style="font-size:24.48px;line-height:24.48px;color:#cc0000;transform:matrix(1.0722,0,0,1,837.78,200.38)">13</span>
<span class="t" style="font-size:24.48px;line-height:24.48px;color:#cc0000;-webkit-text-stroke:0.3px #cc0000;transform:matrix(1.0909,0,0,1.0909,868.32,200.40)">°</span>
<span class="t d" style="font-size:24.48px;line-height:24.48px;color:#1e90ff;transform:matrix(1.0659,0,0,1,845.25,228.18)">9</span>
<span class="t" style="font-size:24.48px;line-height:24.48px;color:#1e90ff;-webkit-text-stroke:0.3px #1e90ff;transform:matrix(1.0909,0,0,1.0909,860.83,228.20)">°</span>
<span class="t d" style="font-size:20.7px;line-height:20.7px;color:#000;transform:matrix(1.0413,0,0,1,922.08,89.98)">sre</span>
<span class="t d" style="font-size:20.4px;line-height:20.4px;color:#000;transform:matrix(1.0967,0,0,1,908.69,111.73)">28.01</span>
<span class="t d" style="font-size:24.48px;line-height:24.48px;color:#cc0000;transform:matrix(1.0722,0,0,1,916.70,200.38)">13</span>
<span class="t" style="font-size:24.48px;line-height:24.48px;color:#cc0000;-webkit-text-stroke:0.3px #cc0000;transform:matrix(1.0909,0,0,1.0909,947.24,200.40)">°</span>
<span class="t d" style="font-size:24.48px;line-height:24.48px;color:#1e90ff;transform:matrix(1.0323,0,0,1,924.40,228.18)">8</span>
<span class="t" style="font-size:24.48px;line-height:24.48px;color:#1e90ff;-webkit-text-stroke:0.3px #1e90ff;transform:matrix(1.0909,0,0,1.0909,939.69,228.20)">°</span>
<span class="t d" style="font-size:20.7px;line-height:20.7px;color:#000;transform:matrix(1.1080,0,0,1,1000.12,89.98)">čet</span>
<span class="t d" style="font-size:20.4px;line-height:20.4px;color:#000;transform:matrix(1.0967,0,0,1,987.61,111.73)">29.01</span>
<span class="t d" style="font-size:24.48px;line-height:24.48px;color:#cc0000;transform:matrix(1.0722,0,0,1,995.62,200.38)">13</span>
<span class="t" style="font-size:24.48px;line-height:24.48px;color:#cc0000;-webkit-text-stroke:0.3px #cc0000;transform:matrix(1.0909,0,0,1.0909,1026.16,200.40)">°</span>
<span class="t d" style="font-size:24.48px;line-height:24.48px;color:#1e90ff;transform:matrix(1.0323,0,0,1,1003.32,228.18)">8</span>
<span class="t" style="font-size:24.48px;line-height:24.48px;color:#1e90ff;-webkit-text-stroke:0.3px #1e90ff;transform:matrix(1.0909,0,0,1.0909,1018.61,228.20)">°</span>
<span class="t d" style="font-size:20.7px;line-height:20.7px;color:#000;transform:matrix(1.1239,0,0,1,1077.90,89.98)">pet</span>
<span class="t d" style="font-size:20.4px;line-height:20.4px;color:#000;transform:matrix(1.0911,0,0,1,1066.80,111.73)">30.01</span>
<span class="t d" style="font-size:24.48px;line-height:24.48px;color:#cc0000;transform:matrix(1.0722,0,0,1,1074.54,200.38)">13</span>
<span class="t" style="font-size:24.48px;line-height:24.48px;color:#cc0000;-webkit-text-stroke:0.3px #cc0000;transform:matrix(1.0909,0,0,1.0909,1105.08,200.40)">°</span>
<span class="t d" style="font-size:24.48px;line-height:24.48px;color:#1e90ff;transform:matrix(1.0323,0,0,1,1082.24,228.18)">8</span>
<span class="t" style="font-size:24.48px;line-height:24.48px;color:#1e90ff;-webkit-text-stroke:0.3px #1e90ff;transform:matrix(1.0909,0,0,1.0909,1097.53,228.20)">°</span>
<span class="t" style="font-size:24px;line-height:24px;color:#000;transform:matrix(0.9979,0,0,1,488.00,388.38)">Temperatura (°C)</span>
<span class="t" style="font-size:24px;line-height:24px;color:#000;transform:matrix(0.9950,0,0,1,338.31,648.38)">Količina padavin (mm) / Možnost padavin (%)</span>
<span class="t" style="font-size:17.0px;line-height:17.0px;color:#0000ff;-webkit-text-stroke:0.3px #0000ff;transform:matrix(1.1335,0,0,1,749.72,469.51)">© vreme.us &amp; vreme.pro</span>
<span class="t d" style="font-size:20.4px;line-height:20.4px;color:#000;transform:matrix(1.0838,0,0,1,39.59,421.93)">20</span>
<span class="t d" style="font-size:20.4px;line-height:20.4px;color:#000;transform:matrix(1.0613,0,0,1,40.08,466.63)">15</span>
<span class="t d" style="font-size:20.4px;line-height:20.4px;color:#000;transform:matrix(1.0798,0,0,1,39.68,510.93)">10</span>
<span class="t d" style="font-size:20.4px;line-height:20.4px;color:#000;transform:matrix(0.9870,0,0,1,53.94,554.83)">5</span>
<span class="t d" style="font-size:20.4px;line-height:20.4px;color:#000;transform:matrix(1.0385,0,0,1,54.30,598.63)">0</span>
<span class="t d" style="font-size:20.4px;line-height:20.4px;color:#000;transform:matrix(1.0710,0,0,1,39.87,700.63)">30</span>
<span class="t d" style="font-size:20.4px;line-height:20.4px;color:#000;transform:matrix(1.0838,0,0,1,39.59,762.83)">20</span>
<span class="t d" style="font-size:20.4px;line-height:20.4px;color:#000;transform:matrix(1.0798,0,0,1,39.68,824.93)">10</span>
<span class="t d" style="font-size:20.4px;line-height:20.4px;color:#000;transform:matrix(1.0385,0,0,1,54.20,875.53)">0</span>
<span class="t d" style="font-size:20.7px;line-height:20.7px;color:#000;transform:matrix(1.0392,0,0,1,51.59,675.88)">sob</span>
<span class="t d" style="font-size:20.7px;line-height:20.7px;color:#000;transform:matrix(1.0706,0,0,1,129.19,675.88)">ned</span>
<span class="t d" style="font-size:20.7px;line-height:20.7px;color:#000;transform:matrix(1.0706,0,0,1,208.11,675.88)">pon</span>
<span class="t d" style="font-size:20.7px;line-height:20.7px;color:#000;transform:matrix(1.1799,0,0,1,291.33,675.88)">tor</span>
<span class="t d" style="font-size:20.7px;line-height:20.7px;color:#000;transform:matrix(1.0413,0,0,1,369.64,675.88)">sre</span>
<span class="t d" style="font-size:20.7px;line-height:20.7px;color:#000;transform:matrix(1.1080,0,0,1,447.68,675.88)">čet</span>
<span class="t d" style="font-size:20.7px;line-height:20.7px;color:#000;transform:matrix(1.1239,0,0,1,525.46,675.88)">pet</span>
<span class="t d" style="font-size:20.7px;line-height:20.7px;color:#000;transform:matrix(1.0392,0,0,1,604.03,675.88)">sob</span>
<span class="t d" style="font-size:20.7px;line-height:20.7px;color:#000;transform:matrix(1.0706,0,0,1,681.63,675.88)">ned</span>
<span class="t d" style="font-size:20.7px;line-height:20.7px;color:#000;transform:matrix(1.0706,0,0,1,760.55,675.88)">pon</span>
<span class="t d" style="font-size:20.7px;line-height:20.7px;color:#000;transform:matrix(1.1799,0,0,1,843.77,675.88)">tor</span>
<span class="t d" style="font-size:20.7px;line-height:20.7px;color:#000;transform:matrix(1.0413,0,0,1,922.08,675.88)">sre</span>
<span class="t d" style="font-size:20.7px;line-height:20.7px;color:#000;transform:matrix(1.1080,0,0,1,1000.12,675.88)">čet</span>
<span class="t d" style="font-size:20.7px;line-height:20.7px;color:#000;transform:matrix(1.1239,0,0,1,1077.90,675.88)">pet</span>
<span class="t d" style="font-size:24.48px;line-height:24.48px;color:#4dd0e1;transform:matrix(1.0485,0,0,1,51.09,906.08)">0%</span>
<span class="t d" style="font-size:24.48px;line-height:24.48px;color:#4dd0e1;transform:matrix(1.0410,0,0,1,130.07,906.08)">5%</span>
<span class="t d" style="font-size:24.48px;line-height:24.48px;color:#4dd0e1;transform:matrix(1.0485,0,0,1,208.79,906.08)">0%</span>
<span class="t d" style="font-size:24.48px;line-height:24.48px;color:#4dd0e1;transform:matrix(1.0410,0,0,1,287.77,906.08)">5%</span>
<span class="t d" style="font-size:24.48px;line-height:24.48px;color:#3498db;transform:matrix(1.0676,0,0,1,358.41,906.08)">15%</span>
<span class="t d" style="font-size:24.48px;line-height:24.48px;color:#3498db;transform:matrix(1.0720,0,0,1,437.49,906.08)">25%</span>
<span class="t d" style="font-size:24.48px;line-height:24.48px;color:#3498db;transform:matrix(1.0682,0,0,1,516.83,906.08)">40%</span>
<span class="t d" style="font-size:24.48px;line-height:24.48px;color:#1565c0;transform:matrix(1.0747,0,0,1,595.12,906.08)">60%</span>
<span class="t d" style="font-size:24.48px;line-height:24.48px;color:#1565c0;transform:matrix(1.0667,0,0,1,674.17,906.08)">75%</span>
<span class="t d" style="font-size:24.48px;line-height:24.48px;color:#1565c0;transform:matrix(1.0747,0,0,1,752.82,906.08)">65%</span>
<span class="t d" style="font-size:24.48px;line-height:24.48px;color:#1565c0;transform:matrix(1.0637,0,0,1,832.07,906.08)">55%</span>
<span class="t d" style="font-size:24.48px;line-height:24.48px;color:#3498db;transform:matrix(1.0682,0,0,1,911.08,906.08)">40%</span>
<span class="t d" style="font-size:24.48px;line-height:24.48px;color:#3498db;transform:matrix(1.0682,0,0,1,989.93,906.08)">45%</span>
<span class="t d" style="font-size:24.48px;line-height:24.48px;color:#1565c0;transform:matrix(1.0637,0,0,1,1068.62,906.08)">50%</span>
</div>
</body>
</html>
